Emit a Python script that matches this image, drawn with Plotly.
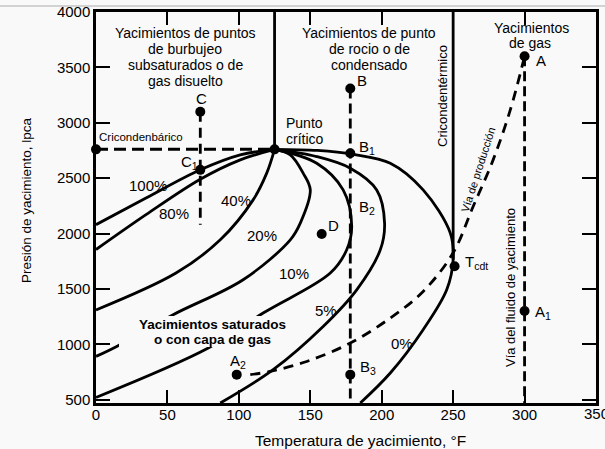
import plotly.graph_objects as go

# ---------------- data (temperature °F, pressure psia) ----------------
q100_T = [0, 35, 73, 101, 125]
q100_P = [2080, 2320, 2575, 2710, 2760]
q80_T = [0, 35, 73, 101, 125]
q80_P = [1855, 2170, 2490, 2665, 2760]
q40_T = [0, 56, 87, 110, 119.5, 125]
q40_P = [1310, 1643, 1943, 2304, 2545, 2760]
q20_T = [0, 14.5, 54, 103, 136, 143, 150, 145, 136, 125]
q20_P = [891, 981, 1267, 1583, 1943, 2094, 2394, 2545, 2710, 2760]
q10_T = [0, 78.6, 117, 164, 175.5, 179, 173, 154.5, 125]
q10_P = [520, 966, 1282, 1643, 1853, 2063, 2394, 2635, 2760]
q05_T = [87, 124, 159, 182.5, 199, 202, 196.5, 178, 154.5, 125]
q05_P = [470, 771, 1161, 1492, 1853, 2094, 2394, 2590, 2695, 2760]
q00_T = [185, 206, 229, 245.5, 250, 248, 229, 206, 180, 155, 125]
q00_P = [470, 741, 1132, 1492, 1763, 2004, 2394, 2635, 2715, 2750, 2760]

prod_T = [108, 122, 147.5, 178, 206, 229, 250, 264, 278, 290, 300]
prod_P = [726, 755, 845, 1011, 1237, 1477, 1826, 2244, 2665, 3116, 3600]

crit_T, crit_P = 125, 2760
cdt_T, cdt_P = 250, 1763
pB_T, pB_top = 178, 3310
pA_T, pA_top = 300, 3600
pC_T, pC_top, pC_bot = 73, 3100, 2080
P_bottom, P_top = 470, 4000

pt_name = ["C", "C1", "B", "B1", "B3", "A2", "D", "A", "A1", "Tcdt", "Pcdb", "crit"]
pt_T = [73, 73, 178, 178, 178, 98.5, 158, 300, 300, 251, 0, 125]
pt_P = [3100, 2575, 3310, 2725, 726, 726, 1995, 3600, 1300, 1705, 2760, 2760]

x_ticks = [0, 50, 100, 150, 200, 250, 300, 350]
y_ticks = [500, 1000, 1500, 2000, 2500, 3000, 3500, 4000]

# ---------------- figure ----------------
W, H = 605, 449
L, R, T, B = 96, 9, 12, 46
X0, X1 = 0, 350
BG = "#f9f9f9"
FONT = "Liberation Sans, Arial, sans-serif"
LW = 2.8
PW, PH = W - L - R, H - T - B


def dx(px):
    return X0 + (px - L) * (X1 - X0) / PW


def dy(py):
    return P_top - (py - T) * (P_top - P_bottom) / PH


fig = go.Figure()


def add_line(xs, ys, dash=None, width=LW, shape="spline"):
    fig.add_trace(go.Scatter(
        x=xs, y=ys, mode="lines",
        line=dict(color="black", width=width, dash=dash, shape=shape,
                  smoothing=1.0 if shape == "spline" else None),
        hoverinfo="skip", showlegend=False))


for cx, cy in [(q100_T, q100_P), (q80_T, q80_P), (q40_T, q40_P), (q20_T, q20_P),
               (q10_T, q10_P), (q05_T, q05_P), (q00_T, q00_P)]:
    add_line(cx, cy)

# straight reference lines
add_line([crit_T, crit_T], [P_top, crit_P], shape="linear")
add_line([cdt_T, cdt_T], [P_top, cdt_P], shape="linear")
add_line([0, crit_T], [crit_P, crit_P], dash="12px,6px", width=3, shape="linear")
add_line([pC_T, pC_T], [pC_top, pC_bot], dash="10px,6px", shape="linear")
add_line([pB_T, pB_T], [pB_top, P_bottom], dash="10px,5px", shape="linear")
add_line([pA_T, pA_T], [pA_top, P_bottom], dash="10px,5px", shape="linear")
add_line(prod_T, prod_P, dash="10px,7px")

fig.add_trace(go.Scatter(x=pt_T, y=pt_P, mode="markers", text=pt_name,
                         marker=dict(size=10, color="black"),
                         hoverinfo="text", showlegend=False, cliponaxis=False))

ann = []


def txt(px, py, s, size=15, xanchor="center", angle=0, bold=False):
    if bold:
        s = "<b>" + s + "</b>"
    ann.append(dict(x=dx(px), y=dy(py), xref="x", yref="y", text=s, showarrow=False,
                    xanchor=xanchor, yanchor="middle", textangle=angle,
                    font=dict(family=FONT, size=size, color="black")))


def ptxt(px, py, s, size=15, angle=0):
    ann.append(dict(x=(px - L) / PW, y=(H - B - py) / PH, xref="paper", yref="paper",
                    text=s, showarrow=False, textangle=angle, xanchor="center",
                    yanchor="middle", font=dict(family=FONT, size=size, color="black")))


# region headings
for s, py in [("Yacimientos de puntos", 32.5), ("de burbujeo", 48.5),
              ("subsaturados o de", 64.5), ("gas disuelto", 80.5)]:
    txt(185, py, s, size=14)
for s, py in [("Yacimientos de punto", 32.5), ("de rocio o de", 48.5),
              ("condensado", 64.5)]:
    txt(369, py, s, size=14)
txt(531, 27.5, "Yacimientos", size=14)
txt(530, 43, "de gas", size=14)
txt(284, 123, "Punto", size=14, xanchor="left")
txt(284, 139, "crítico", size=14, xanchor="left")
txt(97, 137, "Cricondenbárico", size=11.5, xanchor="left")
txt(89, 137, "Pcdb", size=15, xanchor="right")

# point labels
txt(201, 98, "C")
txt(189, 162, "C<sub>1</sub>")
txt(362, 80, "B")
txt(357, 147, "B<sub>1</sub>", xanchor="left")
txt(357, 207, "B<sub>2</sub>", xanchor="left")
txt(358, 367, "B<sub>3</sub>", xanchor="left")
txt(238, 361, "A<sub>2</sub>")
txt(333, 225, "D")
txt(541, 60, "A")
txt(533, 312, "A<sub>1</sub>", xanchor="left")
txt(463, 262, "T<sub>cdt</sub>", xanchor="left")

# quality labels
for s, px, py in [("100%", 148, 185), ("80%", 174, 213), ("40%", 236, 200),
                  ("20%", 262, 235), ("10%", 294, 273), ("5%", 326, 310),
                  ("0%", 402, 343)]:
    txt(px, py, s, size=15)

# saturated region (box hides curves behind it)
txt(212, 324.5, "Yacimientos saturados", size=13.5, bold=True)
txt(212, 339.5, "o con capa de gas", size=13.5, bold=True)

# rotated labels
txt(442, 96, "Cricondentérmico", size=13, angle=-90)
txt(478, 170, "Vía de producción", size=11, angle=-72)
txt(510, 288, "Vía del fluido de yacimiento", size=13, angle=-90)

# last x tick label, clipped by the page edge like in the scan
ptxt(W - R, 413, "350", size=15)

# axis titles
ptxt(27, 200, "Presión de yacimiento, lpca", size=13.5, angle=-90)
ptxt(360, 441, "Temperatura de yacimiento, °F", size=15.5)

shapes = [
    dict(type="rect", xref="x", yref="y", x0=dx(119), x1=dx(294), y0=dy(347), y1=dy(316),
         fillcolor=BG, line=dict(width=0), layer="above"),
    dict(type="line", xref="paper", yref="paper", x0=-0.25, x1=1.05,
         y0=(H - B - 6) / PH, y1=(H - B - 6) / PH,
         line=dict(color="#c4c4c4", width=1.5)),
]

axis_common = dict(showline=True, linecolor="black", linewidth=2.5, mirror="ticks",
                   ticks="inside", tickcolor="black", tickwidth=2, showgrid=False,
                   zeroline=False, automargin=False,
                   tickfont=dict(family=FONT, size=15, color="black"))

fig.update_layout(
    width=W, height=H, margin=dict(l=L, r=R, t=T, b=B, pad=0, autoexpand=False),
    paper_bgcolor=BG, plot_bgcolor=BG, showlegend=False,
    xaxis=dict(range=[X0, X1], tickvals=x_ticks,
               ticktext=[str(v) if v != X1 else "" for v in x_ticks],
               ticklen=13, ticklabelstandoff=-4, **axis_common),
    yaxis=dict(range=[P_bottom, P_top], tickvals=y_ticks,
               ticktext=[str(v) for v in y_ticks], ticklen=14, **axis_common),
    annotations=ann, shapes=shapes,
)

fig.write_html("out.html")
